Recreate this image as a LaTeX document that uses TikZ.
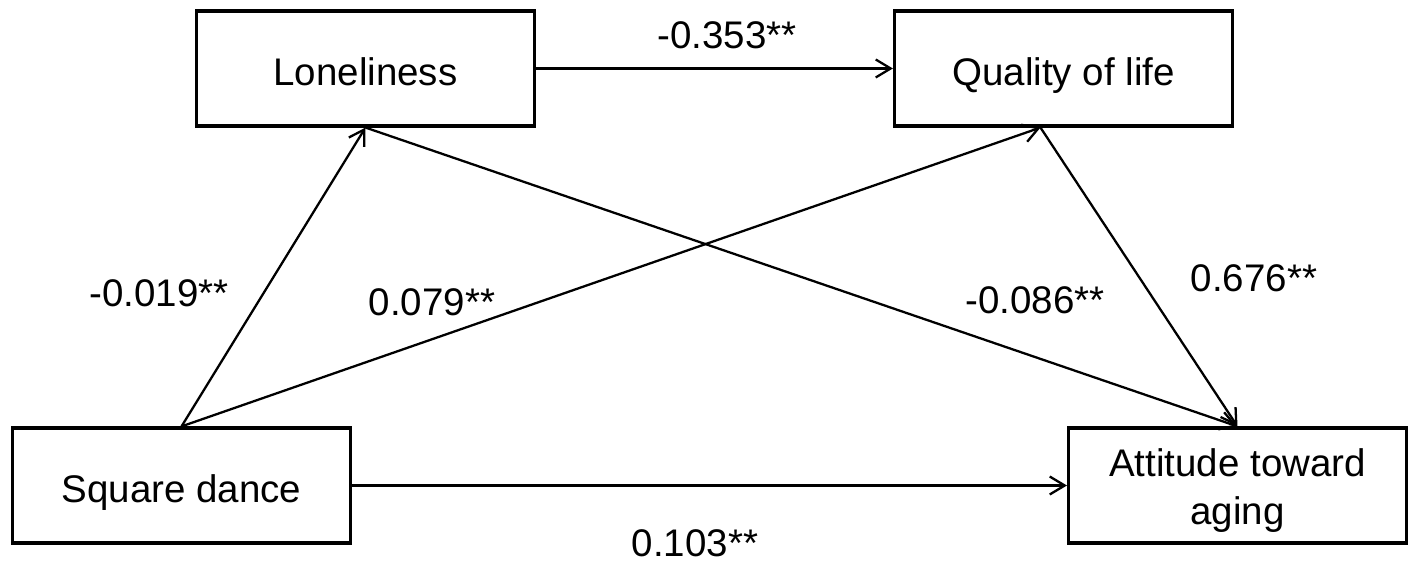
\documentclass[tikz,border=0pt]{standalone}
\usepackage{fontspec}
\setmainfont{Liberation Sans}
\usepackage{tikz}
\usetikzlibrary{calc}
\usetikzlibrary{positioning}
\usetikzlibrary{arrows.meta}

\begin{document}
\begin{tikzpicture}[
		font=\fontsize{10.95}{13.9}\selectfont,
		var/.style={draw, line width=0.9pt, minimum width=3.38cm, minimum height=1.15cm, inner sep=0pt, align=center},
		oneline/.style={text height=3.5mm, text depth=0pt},
		path/.style={line width=0.65pt, -{Straight Barb[length=1.5mm, width=1.8mm]}},
		coef/.style={inner sep=0pt}
	]
		\useasboundingbox (0, 0) rectangle (14.17, 5.66);

		\coordinate (L) at (3.655, 4.975);
		\coordinate (Q) at (10.635, 4.975);
		\coordinate (S) at (1.815, 0.805);
		\coordinate (A) at (12.375, 0.805);

		\node[var, oneline] (lone) at (L) {Loneliness};
		\node[var, oneline] (qual) at (Q) {Quality of life};
		\node[var, oneline] (dance) at (S) {Square dance};
		\node[var] (att) at (A) {\rule{0pt}{3.8mm}Attitude toward\\aging};

		\coordinate (qin) at ([xshift=-2.3mm]qual.south);

		\draw[path] (lone) -- (qual);
		\draw[path] (dance.north) -- (lone.south);
		\draw[path] (dance.north) -- (qin);
		\draw[path] (lone.south) -- (att.north);
		\draw[path] (qin) -- (att.north);
		\draw[path] (dance) -- (att);

		\node[coef] (c1) at (7.27, 5.31) {-0.353**};
		\node[coef] (c2) at (1.59, 2.73) {-0.019**};
		\node[coef] (c3) at (4.32, 2.64) {0.079**};
		\node[coef] (c4) at (10.35, 2.66) {-0.086**};
		\node[coef] (c5) at (12.54, 2.88) {0.676**};
		\node[coef] (c6) at (6.95, 0.23) {0.103**};
\end{tikzpicture}
\end{document}
